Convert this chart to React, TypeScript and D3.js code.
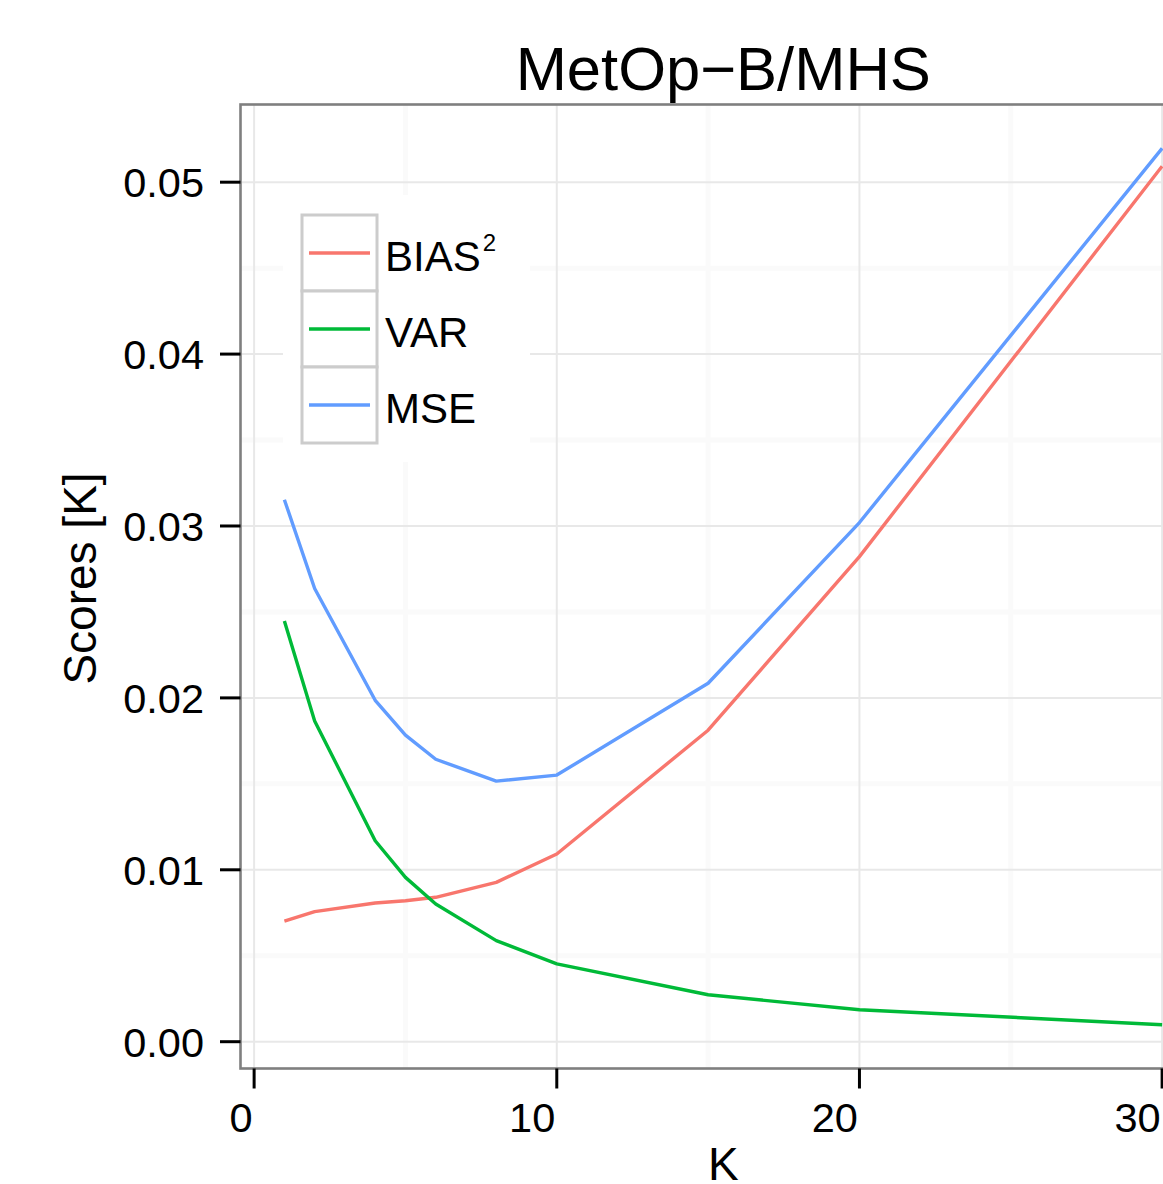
import React from "react";
import * as d3 from "d3";

const kValues = [1, 2, 4, 5, 6, 8, 10, 15, 20, 30];
const bias2 = [0.00701, 0.00757, 0.00807, 0.0082, 0.0084, 0.00927, 0.01092, 0.01812, 0.02822, 0.05093];
const variance = [0.02447, 0.01866, 0.01169, 0.00956, 0.00801, 0.00588, 0.00453, 0.00273, 0.00186, 0.00099];
const mse = [0.03153, 0.02636, 0.01986, 0.01783, 0.01643, 0.01516, 0.01551, 0.02085, 0.0302, 0.05197];

const seriesNames = ["BIAS", "VAR", "MSE"];
const seriesColors = ["#F8766D", "#00BA38", "#619CFF"];
const xTicks = [0, 10, 20, 30];
const xMinor = [5, 15, 25];
const yTicks = [0, 0.01, 0.02, 0.03, 0.04, 0.05];
const yMinor = [0.005, 0.015, 0.025, 0.035, 0.045];

const W = 1163;
const H = 1184;
const panel = { left: 240.5, top: 104.5, right: 1206, bottom: 1068.5 };
const FONT = "'Liberation Sans', Arial, Helvetica, sans-serif";

export default function App() {
  const xExt = d3.extent(kValues) as [number, number];
  const xPad = (xExt[1] - xExt[0]) * 0.05;
  const allY = [...bias2, ...variance, ...mse];
  const yExt = d3.extent(allY) as [number, number];
  const yPad = (yExt[1] - yExt[0]) * 0.05;

  const x = d3.scaleLinear().domain([xExt[0] - xPad, xExt[1] + xPad]).range([panel.left, panel.right]);
  const y = d3.scaleLinear().domain([yExt[0] - yPad, yExt[1] + yPad]).range([panel.bottom, panel.top]);

  const line = d3
    .line<[number, number]>()
    .x((d) => x(d[0]))
    .y((d) => y(d[1]));

  const series = [bias2, variance, mse].map((vals) => kValues.map((k, i) => [k, vals[i]] as [number, number]));
  const fmt = d3.format(".2f");

  const legendX = 302;
  const legendY = 215;
  const keyW = 75;
  const keyH = 76;

  return (
    <div style={{ position: "absolute", left: 0, top: 0 }}>
      <svg width={W} height={H} style={{ display: "block", background: "#fff" }} fontFamily={FONT}>
        <defs>
          <clipPath id="panelClip">
            <rect x={panel.left} y={panel.top} width={panel.right - panel.left} height={panel.bottom - panel.top} />
          </clipPath>
        </defs>
        {/* minor grid */}
        <g stroke="#fafafa" strokeWidth={5}>
          {xMinor.map((v) => (
            <line key={"xm" + v} x1={x(v)} x2={x(v)} y1={panel.top} y2={panel.bottom} />
          ))}
          {yMinor.map((v) => (
            <line key={"ym" + v} x1={panel.left} x2={panel.right} y1={y(v)} y2={y(v)} />
          ))}
        </g>
        {/* major grid */}
        <g stroke="#e8e8e8" strokeWidth={2}>
          {xTicks.map((v) => (
            <line key={"xg" + v} x1={x(v)} x2={x(v)} y1={panel.top} y2={panel.bottom} />
          ))}
          {yTicks.map((v) => (
            <line key={"yg" + v} x1={panel.left} x2={panel.right} y1={y(v)} y2={y(v)} />
          ))}
        </g>
        {/* lines */}
        <g clipPath="url(#panelClip)" fill="none" strokeWidth={3.4} strokeLinejoin="round">
          {series.map((s, i) => (
            <path key={seriesNames[i]} d={line(s) || ""} stroke={seriesColors[i]} />
          ))}
        </g>
        {/* panel border */}
        <rect
          x={panel.left}
          y={panel.top}
          width={panel.right - panel.left}
          height={panel.bottom - panel.top}
          fill="none"
          stroke="#7f7f7f"
          strokeWidth={2.6}
        />
        {/* legend */}
        <rect x={283} y={195} width={247} height={267} fill="#fff" />
        {seriesNames.map((name, i) => {
          const ky = legendY + i * keyH;
          return (
            <g key={"leg" + name}>
              <rect x={legendX} y={ky} width={keyW} height={keyH} fill="#fff" stroke="#cccccc" strokeWidth={3} />
              <line
                x1={legendX + 7}
                x2={legendX + keyW - 7}
                y1={ky + keyH / 2}
                y2={ky + keyH / 2}
                stroke={seriesColors[i]}
                strokeWidth={3.4}
              />
              <text x={385} y={ky + keyH / 2 + 18} fontSize={42} fill="#000">
                {name}
                {i === 0 ? (
                  <tspan fontSize={24} dy={-20} dx={2}>
                    2
                  </tspan>
                ) : null}
              </text>
            </g>
          );
        })}
        {/* y axis */}
        <g>
          {yTicks.map((v) => (
            <g key={"yt" + v}>
              <line x1={220} x2={panel.left} y1={y(v)} y2={y(v)} stroke="#000" strokeWidth={3} />
              <text x={204} y={y(v)} dy="0.36em" textAnchor="end" fontSize={41.5} fill="#000">
                {fmt(v)}
              </text>
            </g>
          ))}
        </g>
        {/* x axis */}
        <g>
          {xTicks.map((v) => (
            <g key={"xt" + v}>
              <line x1={x(v)} x2={x(v)} y1={panel.bottom} y2={panel.bottom + 20} stroke="#000" strokeWidth={3} />
              <text x={x(v) - 1.5} y={1132} textAnchor="end" fontSize={41.5} fill="#000">
                {v}
              </text>
            </g>
          ))}
        </g>
        {/* titles */}
        <text x={(panel.left + panel.right) / 2} y={90} textAnchor="middle" fontSize={61.5} fill="#000">
          MetOp−B/MHS
        </text>
        <text x={(panel.left + panel.right) / 2} y={1180} textAnchor="middle" fontSize={46} fill="#000">
          K
        </text>
        <text
          transform={`translate(96, ${(panel.top + panel.bottom) / 2 - 8}) rotate(-90)`}
          textAnchor="middle"
          fontSize={46}
          fill="#000"
        >
          Scores [K]
        </text>
      </svg>
    </div>
  );
}
